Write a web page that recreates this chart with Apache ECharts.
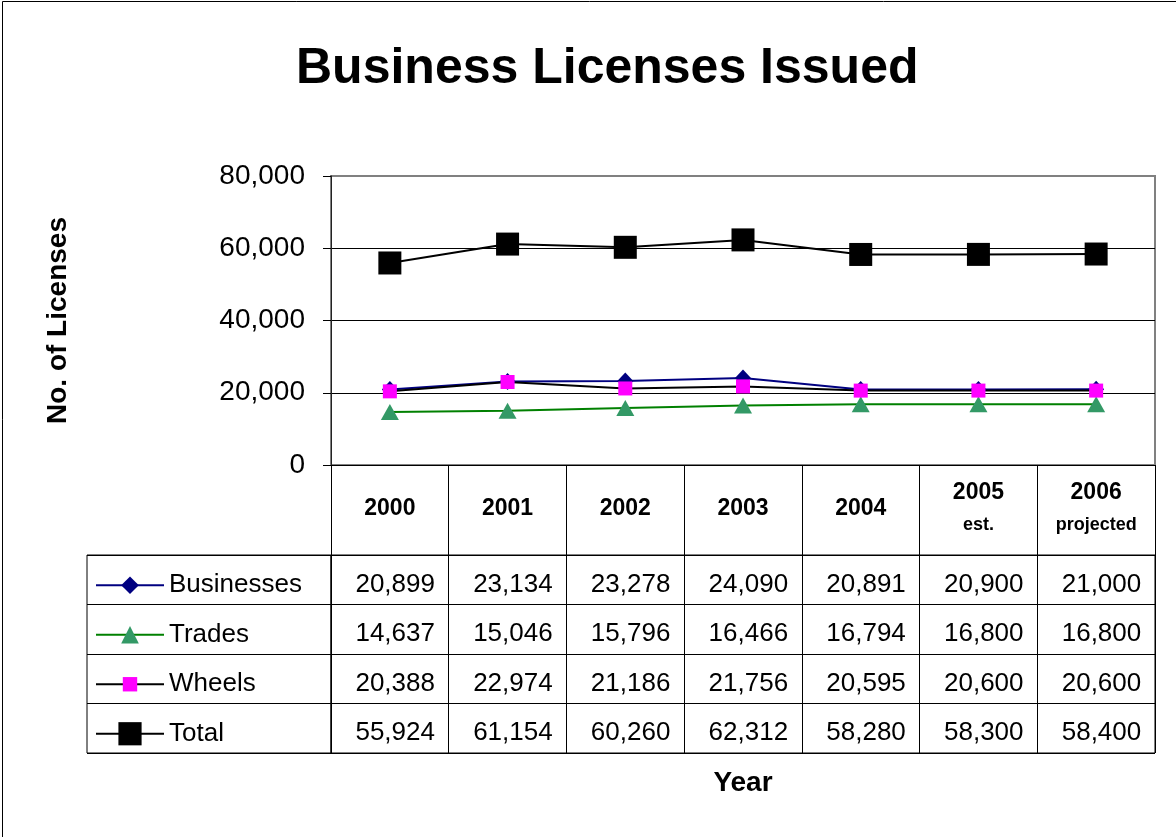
<!DOCTYPE html>
<html><head><meta charset="utf-8">
<script src="https://cdn.jsdelivr.net/npm/echarts@6/dist/echarts.min.js"></script>
<style>html,body{margin:0;padding:0;background:#fff}#c{width:1176px;height:837px}</style>
</head><body><div id="c"></div>
<script>
// ---- data ----
const years = ['2000','2001','2002','2003','2004','2005','2006'];
const yearNotes = ['','','','','','est.','projected'];
const seriesNames = ['Businesses','Trades','Wheels','Total'];
const businesses = [20899,23134,23278,24090,20891,20900,21000];
const trades = [14637,15046,15796,16466,16794,16800,16800];
const wheels = [20388,22974,21186,21756,20595,20600,20600];
const total = [55924,61154,60260,62312,58280,58300,58400];
const yMin = 0, yMax = 80000, yStep = 20000;

// ---- layout / style ----
const FF = "'Liberation Sans', Arial, sans-serif";
const fmt = v => Number(v).toLocaleString('en-US');
const plot = {left:331, top:176, width:824, height:289};
const tbl = {top:555, height:198};
const rowH = tbl.height / 4;
const valuesByRow = [businesses, trades, wheels, total];
const cellData = [];
valuesByRow.forEach((arr, r) => arr.forEach((v, c) => cellData.push([c, r, v])));

const lineCfg = [
  {data:businesses, line:'#000080', fill:'#000080', symbol:'diamond', size:[16,17], legendH:22},
  {data:trades, line:'#008000', fill:'#339966', symbol:'triangle', size:[18,16], legendH:22},
  {data:wheels, line:'#000000', fill:'#FF00FF', symbol:'rect', size:14, legendH:18},
  {data:total, line:'#000000', fill:'#000000', symbol:'rect', size:23, legendH:29}
];

const chart = echarts.init(document.getElementById('c'), null, {renderer:'canvas'});
const option = {
  animation:false,
  textStyle:{fontFamily:FF},
  title:{text:'Business Licenses Issued', left:291, top:39,
    textStyle:{fontSize:50, fontWeight:'bold', color:'#000', fontFamily:FF}},
  graphic:[{type:'rect', silent:true, z:-10, shape:{x:2.5, y:1.5, width:1200, height:900},
    style:{fill:'none', stroke:'#000', lineWidth:1}}],
  legend: seriesNames.map((n, i) => ({
    data:[n], orient:'vertical', left:95, padding:0,
    top: tbl.top + rowH * i + rowH / 2 + 5.5 - 15,
    itemWidth:68, itemHeight:lineCfg[i].legendH, selectedMode:false,
    textStyle:{fontSize:26, color:'#000', lineHeight:30, fontFamily:FF}
  })),
  grid:[
    Object.assign({show:true, borderColor:'#808080', borderWidth:2, backgroundColor:'transparent'}, plot),
    {left:plot.left, width:plot.width, top:tbl.top, height:tbl.height, show:true, borderColor:'#000', borderWidth:1, backgroundColor:'transparent'},
    {left:87, width:plot.left - 87, top:tbl.top, height:tbl.height, show:true, borderColor:'#000', borderWidth:1, backgroundColor:'transparent'}
  ],
  xAxis:[
    {type:'category', gridIndex:0, data:years, boundaryGap:true,
     axisLine:{show:true, lineStyle:{color:'#000', width:1}},
     axisTick:{show:true, interval:0, length:tbl.top - (plot.top + plot.height), lineStyle:{color:'#000', width:1}},
     axisLabel:{interval:0, margin:44, verticalAlign:'middle', color:'#000',
       formatter:(v, i) => yearNotes[i] ? `{a|${v}}\n{b|${yearNotes[i]}}` : `{a|${v}}`,
       rich:{a:{fontSize:23, fontWeight:'bold', lineHeight:33, fontFamily:FF, color:'#000'},
             b:{fontSize:18, fontWeight:'bold', lineHeight:33, fontFamily:FF, color:'#000'}}},
     splitLine:{show:false},
     name:'Year', nameLocation:'middle', nameGap:318,
     nameTextStyle:{fontSize:28, fontWeight:'bold', color:'#000', verticalAlign:'middle', fontFamily:FF}},
    {type:'category', gridIndex:1, data:years, boundaryGap:true,
     axisLine:{show:false}, axisTick:{show:false}, axisLabel:{show:false},
     splitLine:{show:true, interval:0, lineStyle:{color:'#000', width:1}}},
    {type:'value', gridIndex:2, min:0, max:1, show:false}
  ],
  yAxis:[
    {type:'value', gridIndex:0, min:yMin, max:yMax, interval:yStep,
     axisLine:{show:true, lineStyle:{color:'#222', width:1}},
     axisTick:{show:true, length:8, lineStyle:{color:'#000'}},
     axisLabel:{fontSize:28, color:'#000', margin:26, formatter:v => fmt(v), fontFamily:FF},
     splitLine:{show:true, showMaxLine:false, lineStyle:{color:'#000', width:1}},
     name:'No. of Licenses', nameLocation:'middle', nameGap:259, nameRotate:90,
     nameTextStyle:{fontSize:28, fontWeight:'bold', color:'#000', fontFamily:FF}},
    {type:'category', gridIndex:1, data:seriesNames, inverse:true,
     axisLine:{show:false}, axisTick:{show:false}, axisLabel:{show:false},
     splitLine:{show:true, interval:0, lineStyle:{color:'#000', width:1}}},
    {type:'category', gridIndex:2, data:seriesNames, inverse:true,
     axisLine:{show:false}, axisTick:{show:false}, axisLabel:{show:false},
     splitLine:{show:true, interval:0, lineStyle:{color:'#000', width:1}}}
  ],
  series: lineCfg.map((c, i) => ({
    name:seriesNames[i], type:'line', xAxisIndex:0, yAxisIndex:0, data:c.data,
    symbol:c.symbol, symbolSize:c.size, showAllSymbol:true,
    lineStyle:{color:c.line, width:2},
    itemStyle:{color:c.fill, borderWidth:0},
    emphasis:{disabled:true}, silent:true
  })).concat([{
    type:'heatmap', name:'table', xAxisIndex:1, yAxisIndex:1, data:cellData,
    itemStyle:{color:'rgba(0,0,0,0)'}, silent:true, emphasis:{disabled:true},
    label:{show:true, position:'insideRight', distance:14, offset:[0,5],
      fontSize:26, color:'#000', fontFamily:FF, formatter:p => fmt(p.value[2])}
  }])
};
chart.setOption(option);
</script>
</body></html>
